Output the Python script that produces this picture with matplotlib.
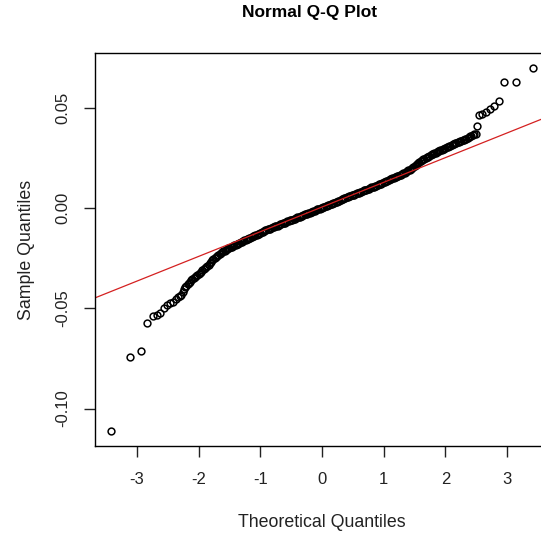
import matplotlib
matplotlib.use("Agg")
import matplotlib.pyplot as plt
import numpy as np

# theoretical quantiles (x) and sample quantiles (y)
# sparse lower tail
theo_tail_lo = [-3.42, -3.11, -2.93, -2.84, -2.74, -2.68, -2.63, -2.56, -2.51, -2.46,
                -2.41, -2.37, -2.33]
samp_tail_lo = [-0.1114, -0.0741, -0.0711, -0.0572, -0.0537, -0.0532, -0.0522, -0.0500, -0.0485, -0.0472,
                -0.0466, -0.0455, -0.0445]

# dense lower part, -2.30 .. -1.00
theo_lo = [-2.30, -2.28, -2.26, -2.24, -2.22, -2.20, -2.18, -2.16, -2.14, -2.12,
           -2.10, -2.08, -2.06, -2.04, -2.02, -2.00, -1.98, -1.96, -1.94, -1.92,
           -1.90, -1.88, -1.86, -1.84, -1.82, -1.80, -1.78, -1.76, -1.74, -1.72,
           -1.70, -1.68, -1.66, -1.64, -1.62, -1.60, -1.58, -1.56, -1.54, -1.52,
           -1.50, -1.48, -1.46, -1.44, -1.42, -1.40, -1.38, -1.36, -1.34, -1.32,
           -1.30, -1.28, -1.26, -1.24, -1.22, -1.20, -1.18, -1.16, -1.14, -1.12,
           -1.10, -1.08, -1.06, -1.04, -1.02, -1.00]
samp_lo = [-0.0440, -0.0433, -0.0418, -0.0404, -0.0396, -0.0388, -0.0380, -0.0373, -0.0367, -0.0361,
           -0.0356, -0.0351, -0.0345, -0.0339, -0.0333, -0.0328, -0.0323, -0.0317, -0.0311, -0.0306,
           -0.0300, -0.0295, -0.0290, -0.0283, -0.0276, -0.0269, -0.0261, -0.0254, -0.0248, -0.0243,
           -0.0239, -0.0234, -0.0229, -0.0225, -0.0220, -0.0215, -0.0212, -0.0208, -0.0205, -0.0201,
           -0.0198, -0.0195, -0.0192, -0.0189, -0.0186, -0.0183, -0.0180, -0.0177, -0.0174, -0.0171,
           -0.0168, -0.0164, -0.0161, -0.0158, -0.0155, -0.0152, -0.0150, -0.0147, -0.0144, -0.0141,
           -0.0139, -0.0136, -0.0134, -0.0131, -0.0129, -0.0126]

# dense middle, -0.98 .. 1.20
theo_mid = [-0.98, -0.96, -0.94, -0.92, -0.90, -0.88, -0.86, -0.84, -0.82, -0.80,
            -0.78, -0.76, -0.74, -0.72, -0.70, -0.68, -0.66, -0.64, -0.62, -0.60,
            -0.58, -0.56, -0.54, -0.52, -0.50, -0.48, -0.46, -0.44, -0.42, -0.40,
            -0.38, -0.36, -0.34, -0.32, -0.30, -0.28, -0.26, -0.24, -0.22, -0.20,
            -0.18, -0.16, -0.14, -0.12, -0.10, -0.08, -0.06, -0.04, -0.02, 0.00,
            0.02, 0.04, 0.06, 0.08, 0.10, 0.12, 0.14, 0.16, 0.18, 0.20,
            0.22, 0.24, 0.26, 0.28, 0.30, 0.32, 0.34, 0.36, 0.38, 0.40,
            0.42, 0.44, 0.46, 0.48, 0.50, 0.52, 0.54, 0.56, 0.58, 0.60,
            0.62, 0.64, 0.66, 0.68, 0.70, 0.72, 0.74, 0.76, 0.78, 0.80,
            0.82, 0.84, 0.86, 0.88, 0.90, 0.92, 0.94, 0.96, 0.98, 1.00,
            1.02, 1.04, 1.06, 1.08, 1.10, 1.12, 1.14, 1.16, 1.18, 1.20]
samp_mid = [-0.0120, -0.0117, -0.0114, -0.0111, -0.0108, -0.0106, -0.0104, -0.0102, -0.0099, -0.0096,
            -0.0093, -0.0091, -0.0089, -0.0087, -0.0084, -0.0081, -0.0078, -0.0076, -0.0074, -0.0072,
            -0.0069, -0.0066, -0.0063, -0.0061, -0.0059, -0.0057, -0.0055, -0.0052, -0.0049, -0.0046,
            -0.0044, -0.0042, -0.0040, -0.0037, -0.0034, -0.0031, -0.0029, -0.0027, -0.0025, -0.0022,
            -0.0019, -0.0017, -0.0014, -0.0012, -0.0009, -0.0006, -0.0004, -0.0002, 0.0001, 0.0003,
            0.0005, 0.0008, 0.0011, 0.0013, 0.0015, 0.0018, 0.0020, 0.0023, 0.0026, 0.0028,
            0.0030, 0.0033, 0.0035, 0.0038, 0.0041, 0.0043, 0.0045, 0.0048, 0.0050, 0.0053,
            0.0056, 0.0058, 0.0060, 0.0063, 0.0065, 0.0067, 0.0070, 0.0073, 0.0075, 0.0077,
            0.0080, 0.0082, 0.0085, 0.0088, 0.0090, 0.0092, 0.0095, 0.0097, 0.0100, 0.0103,
            0.0105, 0.0107, 0.0110, 0.0112, 0.0115, 0.0118, 0.0120, 0.0122, 0.0125, 0.0128,
            0.0131, 0.0134, 0.0137, 0.0140, 0.0143, 0.0146, 0.0149, 0.0152, 0.0155, 0.0157]

# dense upper part, 1.22 .. 2.46
theo_hi = [1.22, 1.24, 1.26, 1.28, 1.30, 1.32, 1.34, 1.36, 1.38, 1.40,
           1.42, 1.44, 1.46, 1.48, 1.50, 1.52, 1.54, 1.56, 1.58, 1.60,
           1.62, 1.64, 1.66, 1.68, 1.70, 1.72, 1.74, 1.76, 1.78, 1.80,
           1.82, 1.84, 1.86, 1.88, 1.90, 1.92, 1.94, 1.96, 1.98, 2.00,
           2.02, 2.04, 2.06, 2.08, 2.10, 2.12, 2.14, 2.16, 2.18, 2.20,
           2.22, 2.24, 2.26, 2.28, 2.30, 2.32, 2.34, 2.36, 2.38, 2.40,
           2.42, 2.44, 2.46]
samp_hi = [0.0159, 0.0162, 0.0164, 0.0167, 0.0170, 0.0173, 0.0177, 0.0180, 0.0184, 0.0188,
           0.0192, 0.0196, 0.0200, 0.0205, 0.0210, 0.0215, 0.0220, 0.0226, 0.0231, 0.0236,
           0.0240, 0.0243, 0.0247, 0.0250, 0.0254, 0.0257, 0.0261, 0.0264, 0.0268, 0.0271,
           0.0274, 0.0277, 0.0280, 0.0283, 0.0286, 0.0289, 0.0291, 0.0294, 0.0297, 0.0300,
           0.0303, 0.0306, 0.0309, 0.0312, 0.0315, 0.0318, 0.0320, 0.0323, 0.0325, 0.0328,
           0.0330, 0.0333, 0.0335, 0.0338, 0.0340, 0.0343, 0.0346, 0.0350, 0.0354, 0.0358,
           0.0362, 0.0366, 0.0370]

# sparse upper tail
theo_tail_hi = [2.50, 2.51, 2.54, 2.59, 2.66, 2.72, 2.79, 2.87, 2.95, 3.14, 3.42]
samp_tail_hi = [0.0368, 0.0408, 0.0463, 0.0468, 0.0478, 0.0493, 0.0512, 0.0532, 0.0627, 0.0627, 0.0701]

# qqline: intercept and slope through the quartiles
line_intercept = 0.00054
line_slope = 0.01232

x_ticks = [-3, -2, -1, 0, 1, 2, 3]
y_ticks = [-0.10, -0.05, 0.00, 0.05]
y_ticklabels = ["-0.10", "-0.05", "0.00", "0.05"]

theo = theo_tail_lo + theo_lo + theo_mid + theo_hi + theo_tail_hi
samp = samp_tail_lo + samp_lo + samp_mid + samp_hi + samp_tail_hi

plt.rcParams['font.family'] = ['Liberation Sans', 'DejaVu Sans']
plt.rcParams['xtick.direction'] = 'out'
plt.rcParams['ytick.direction'] = 'out'

W, H = 541, 535
fig = plt.figure(figsize=(W / 100, H / 100), dpi=100)
# axes runs off the right edge, as in the cropped reference
ax = fig.add_axes([95 / W, 1 - 446 / H, 454 / W, 393 / H])

ax.plot(theo, samp, 'o', markerfacecolor='none', markeredgecolor='black',
        markersize=4.9, markeredgewidth=1.1, linestyle='none')
ax.axline((0, line_intercept), slope=line_slope, color='#d42020', linewidth=0.9)

ax.set_xlim(-3.68, 3.68)
ax.set_ylim(-0.1187, 0.0774)
ax.set_xticks(x_ticks)
ax.set_xticklabels([str(t) for t in x_ticks])
ax.set_yticks(y_ticks)
ax.set_yticklabels(y_ticklabels, rotation=90, va='center')

for s in ax.spines.values():
    s.set_linewidth(1.0)
ax.tick_params(axis='both', length=8, width=1.0, labelsize=12, colors='#222222')
ax.tick_params(axis='x', pad=11)
ax.tick_params(axis='y', pad=10)

ax.set_xlabel("Theoretical Quantiles", fontsize=12.8, color='#222222', labelpad=19)
ax.set_ylabel("Sample Quantiles", fontsize=12.8, color='#222222')
ax.yaxis.set_label_coords(-0.132, 0.5)

fig.text(310 / W, 1 - 13 / H, "Normal Q-Q Plot", ha='center', va='center',
         fontsize=12.5, fontweight='bold')

plt.savefig("out.png", dpi=100)
plt.close()
